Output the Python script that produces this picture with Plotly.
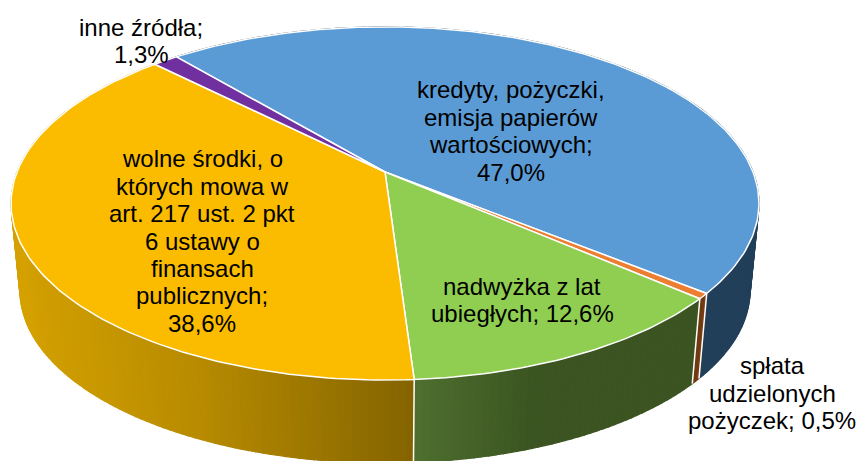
import numpy as np
import plotly.graph_objects as go

categories = ["kredyty, pożyczki,<br>emisja papierów<br>wartościowych;", "spłata<br>udzielonych<br>pożyczek;",
              "nadwyżka z lat<br>ubiegłych;", "wolne środki, o<br>których mowa w<br>art. 217 ust. 2 pkt<br>6 ustawy o<br>finansach<br>publicznych;",
              "inne źródła;"]
values = [47.0, 0.5, 12.6, 38.6, 1.3]
value_labels = ["47,0%", "0,5%", "12,6%", "38,6%", "1,3%"]
joiners = ["<br>", " ", " ", "<br>", "<br>"]
top_colors = ["#5B9BD5", "#ED7D31", "#8FCE50", "#FBBC00", "#7030A0"]
side_stops = [[(0.0, "#25405A"), (1.0, "#223F5A")],
              [(0.0, "#7A3F14"), (1.0, "#6E3810")],
              [(0.0, "#3C5421"), (0.64, "#3B5421"), (1.0, "#4F7030")],
              [(0.0, "#856400"), (0.11, "#A07A00"), (0.21, "#B88B00"), (0.33, "#C89800"), (0.5, "#D4A100"), (1.0, "#DAA400")],
              [(0.0, "#4A2070"), (1.0, "#4A2070")]]
label_pos = [(511, 131), (772, 393), (522, 300), (202, 241), (141, 41)]
LINE_GAP = 27.4

CX, CY, RX, RY, K = 385, 172, 368, 171, 0.178
DROP, SHRINK = 88, 0.976
START = -40.1

def project(deg, lower=False):
    t = np.radians(deg)
    u, v = np.sin(t), np.cos(t)
    w = 1 + K * v
    s = SHRINK if lower else 1.0
    return CX + s * RX * u / w, CY + (DROP if lower else 0) - s * RY * v / w

def hex_rgb(h):
    return np.array([int(h[i:i + 2], 16) for i in (1, 3, 5)], float)

def ramp(stops, f):
    xs = [a for a, _ in stops]
    cols = np.array([hex_rgb(c) for _, c in stops])
    rgb = [np.interp(f, xs, cols[:, i]) for i in range(3)]
    return "rgb(%d,%d,%d)" % tuple(rgb)

edges = START + np.cumsum([0] + values) * 3.6
fig = go.Figure()

# side wall, drawn first so the top face hides its far half
for i in range(len(values)):
    a0, a1 = edges[i], edges[i + 1]
    n = max(2, int((a1 - a0) / 1.0))
    grid = np.linspace(a0, a1, n + 1)
    for j in range(n):
        p, q = grid[j], grid[j + 1]
        xu = [project(p)[0], project(q)[0]]
        yu = [project(p)[1], project(q)[1]]
        xl = [project(p, True)[0], project(q, True)[0]]
        yl = [project(p, True)[1], project(q, True)[1]]
        c = ramp(side_stops[i], (j + 0.5) / n)
        fig.add_trace(go.Scatter(x=xu + xl[::-1] + xu[:1], y=yu + yl[::-1] + yu[:1], mode="lines",
                                 fill="toself", fillcolor=c, line=dict(color=c, width=1.2),
                                 hoverinfo="skip", showlegend=False))

# white separators on the wall, only where it faces the viewer
for e in edges[1:4]:
    xu, yu = project(e)
    xl, yl = project(e, True)
    fig.add_trace(go.Scatter(x=[xu, xl], y=[yu, yl], mode="lines", line=dict(color="white", width=1.5),
                             hoverinfo="skip", showlegend=False))

# top face
for i in range(len(values)):
    grid = np.linspace(edges[i], edges[i + 1], max(3, int(values[i] * 3.6)) + 1)
    xs, ys = project(grid)
    fig.add_trace(go.Scatter(x=[CX, *xs, CX], y=[CY, *ys, CY], mode="lines", fill="toself",
                             fillcolor=top_colors[i], line=dict(color="white", width=1.5),
                             hoverinfo="skip", showlegend=False))

# one annotation per line: the label's leading is tighter than Plotly's own
for cat, lab, jn, (lx, ly) in zip(categories, value_labels, joiners, label_pos):
    lines = (cat + jn + lab).split("<br>")
    for k, line in enumerate(lines):
        fig.add_annotation(x=lx, y=ly + (k - (len(lines) - 1) / 2) * LINE_GAP, text=line, showarrow=False,
                           xanchor="center", yanchor="middle",
                           font=dict(family="Liberation Sans, Arial, sans-serif", size=24, color="#000000"))

fig.update_layout(width=859, height=461, margin=dict(l=0, r=0, t=0, b=0), paper_bgcolor="white",
                  plot_bgcolor="white", showlegend=False,
                  xaxis=dict(range=[0, 859], visible=False, fixedrange=True),
                  yaxis=dict(range=[461, 0], visible=False, fixedrange=True))
fig.write_html("out.html", config={"displayModeBar": False},
               post_script="document.body.style.margin='0';document.body.style.overflow='hidden';")
